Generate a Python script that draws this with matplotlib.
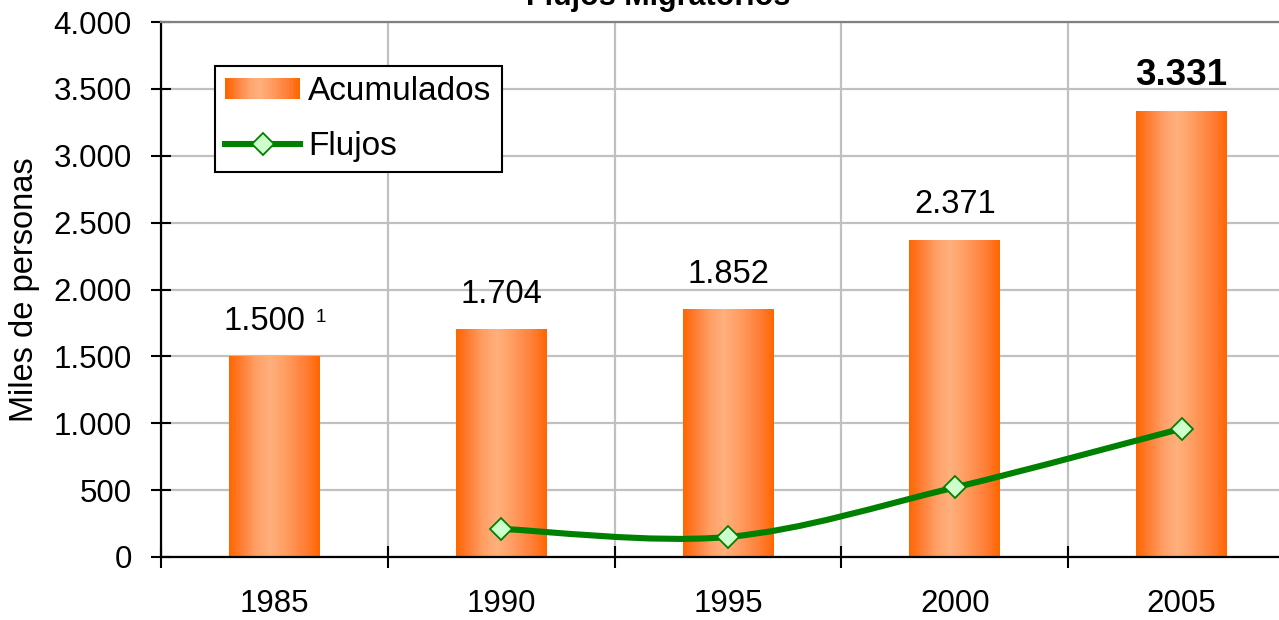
import numpy as np
import matplotlib
matplotlib.use("Agg")
import matplotlib.pyplot as plt
from matplotlib.colors import LinearSegmentedColormap
from matplotlib.patches import Rectangle, PathPatch
from matplotlib.path import Path
from matplotlib.lines import Line2D
from matplotlib.legend_handler import HandlerBase

# datos
anios = ["1985", "1990", "1995", "2000", "2005"]
acumulados = [1500, 1704, 1852, 2371, 3331]
etiquetas = ["1.500", "1.704", "1.852", "2.371", "3.331"]
flujos_idx = [1, 2, 3, 4]          # posiciones de 1990..2005
flujos = [210, 150, 520, 960]
yticks = [0, 500, 1000, 1500, 2000, 2500, 3000, 3500, 4000]
ytick_labels = ["0", "500", "1.000", "1.500", "2.000", "2.500", "3.000", "3.500", "4.000"]

plt.rcParams["font.family"] = ["Liberation Sans", "DejaVu Sans"]

naranja = LinearSegmentedColormap.from_list("naranja", [
    (0.0, "#FF6600"), (0.12, "#FF7A2E"), (0.3, "#FFA066"), (0.45, "#FFB07D"),
    (0.6, "#FFA066"), (0.85, "#FF7D35"), (1.0, "#FF6600")])
verde = "#008000"


class HandlerGradiente(HandlerBase):
    def create_artists(self, legend, orig_handle, xdescent, ydescent,
                       width, height, fontsize, trans):
        n = 40
        arts = []
        for i in range(n):
            r = Rectangle((-xdescent + width * i / n, -ydescent), width / n * 1.1, height,
                          facecolor=naranja(i / (n - 1)), edgecolor="none", transform=trans)
            arts.append(r)
        return arts


def curva_suave(xs, ys):
    pts = np.column_stack([xs, ys]).astype(float)
    n = len(pts)
    verts = [pts[0]]
    codes = [Path.MOVETO]
    for i in range(n - 1):
        p0 = pts[i - 1] if i > 0 else pts[i]
        p1, p2 = pts[i], pts[i + 1]
        p3 = pts[i + 2] if i + 2 < n else pts[i + 1]
        verts += [p1 + (p2 - p0) / 6, p2 - (p3 - p1) / 6, p2]
        codes += [Path.CURVE4] * 3
    return Path(verts, codes)


fig = plt.figure(figsize=(12.79, 6.20), dpi=100)
ax = fig.add_axes([161 / 1279, 63 / 620, 1134 / 1279, 535 / 620])

x = np.arange(len(anios))
barras = ax.bar(x, acumulados, width=0.4, color="#FF6600", edgecolor="none", zorder=2)
grad = np.linspace(0, 1, 256).reshape(1, -1)
for b in barras:
    x0, y0, w, h = b.get_x(), b.get_y(), b.get_width(), b.get_height()
    im = ax.imshow(grad, cmap=naranja, extent=[x0, x0 + w, y0, y0 + h],
                   aspect="auto", zorder=2.1, interpolation="bilinear")
    im.set_clip_path(b)

# etiquetas de datos
for i, (v, t) in enumerate(zip(acumulados, etiquetas)):
    negrita = i == len(acumulados) - 1
    dx = -7.5 if i == 0 else 0
    txt = ax.annotate(t, (x[i], v), xytext=(dx, 19), textcoords="offset points",
                      ha="center", va="baseline",
                      fontsize=26.5 if negrita else 23.5,
                      fontweight="bold" if negrita else "normal", zorder=5)
    if i == 0:
        ax.annotate("1", xy=(1, 1), xycoords=txt, xytext=(8, -2.5),
                    textcoords="offset points", ha="left", va="top", fontsize=13.5)

# flujos (línea suavizada)
ax.add_patch(PathPatch(curva_suave(flujos_idx, flujos), facecolor="none",
                       edgecolor=verde, lw=4.4, zorder=3, capstyle="round"))
ax.plot(flujos_idx, flujos, linestyle="none", marker="D", ms=11,
        markerfacecolor="#CCFFCC", markeredgecolor=verde, markeredgewidth=1.3, zorder=4)

ax.set_xlim(-0.5, 4.5)
ax.set_ylim(0, 4000)
ax.set_yticks(yticks)
ax.set_yticklabels(ytick_labels)
ax.set_xticks(x)
ax.set_xticklabels(anios)
ax.set_xticks(np.arange(-0.5, 4.6, 1), minor=True)

ax.tick_params(axis="y", direction="inout", length=14, width=1.5, labelsize=22.5, pad=14)
ax.tick_params(axis="x", which="major", length=0, labelsize=22.5, pad=23)
ax.tick_params(axis="x", which="minor", direction="inout", length=16, width=1.5)

ax.grid(axis="y", color="#C0C0C0", lw=1.6, zorder=0)
ax.grid(axis="x", which="minor", color="#C0C0C0", lw=1.6, zorder=0)
ax.set_axisbelow(True)

for s in ["left", "bottom"]:
    ax.spines[s].set_linewidth(1.6)
    ax.spines[s].set_color("black")
ax.spines["top"].set_color("#808080")
ax.spines["top"].set_linewidth(1.6)
ax.spines["right"].set_visible(False)

ax.set_ylabel("Miles de personas", fontsize=23.5, labelpad=10)

fig.text(658 / 1279, 1 - 5 / 620, "Flujos Migratorios", ha="center", va="baseline",
         fontsize=22, fontweight="bold")

h_bar = Rectangle((0, 0), 1, 1)
h_line = Line2D([], [], color=verde, lw=4.4, marker="D", ms=11,
                markerfacecolor="#CCFFCC", markeredgecolor=verde, markeredgewidth=1.3)
leg = ax.legend([h_bar, h_line], ["Acumulados", "Flujos"],
                handler_map={Rectangle: HandlerGradiente()},
                loc="upper left", bbox_to_anchor=(54 / 1134, 491 / 535),
                fontsize=24, frameon=True, fancybox=False, framealpha=1,
                edgecolor="black", borderpad=0.3, handlelength=2.25, handleheight=0.6,
                handletextpad=0.25, labelspacing=0.72, borderaxespad=0)
leg.get_frame().set_linewidth(1.5)

fig.savefig("out.png", dpi=100)
